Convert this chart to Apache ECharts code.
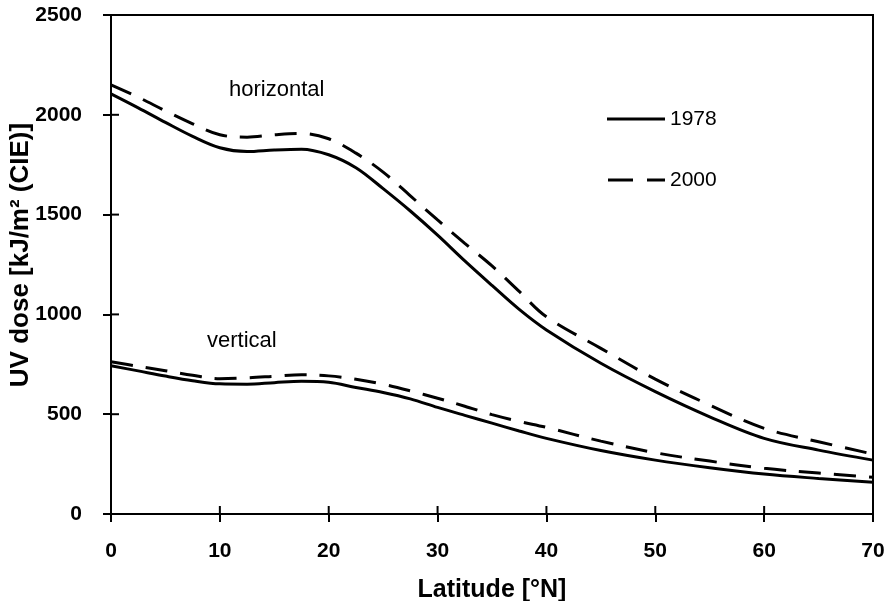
<!DOCTYPE html>
<html>
<head>
<meta charset="utf-8">
<script src="https://cdn.jsdelivr.net/npm/echarts@6/dist/echarts.min.js"></script>
<style>
html,body{margin:0;padding:0;background:#fff;}
#chart{width:891px;height:601px;}
</style>
</head>
<body>
<div id="chart"></div>
<script>
// Latitude (°N) sample points shared by all curves
var latitudes = [0, 2.5, 5, 7.5, 10, 12.5, 15, 17.5, 20, 22.5, 25, 27.5, 30, 32.5, 35, 37.5, 40, 45, 50, 55, 60, 65, 70];
// UV dose [kJ/m² (CIE)]
var horiz1978 = [2105, 2035, 1962, 1892, 1835, 1816, 1824, 1828, 1800, 1735, 1630, 1518, 1397, 1268, 1145, 1025, 922, 755, 613, 487, 379, 320, 270];
var horiz2000 = [2150, 2088, 2020, 1955, 1900, 1888, 1900, 1907, 1880, 1808, 1713, 1594, 1473, 1356, 1243, 1115, 988, 830, 676, 546, 429, 362, 300];
var vert1978  = [743, 717, 691, 668, 652, 650, 658, 665, 660, 634, 609, 577, 534, 494, 455, 416, 379, 318, 270, 232, 200, 178, 159];
var vert2000  = [763, 740, 718, 695, 678, 682, 690, 698, 692, 675, 650, 617, 580, 540, 498, 464, 434, 365, 307, 265, 229, 205, 184];

var xTicks = [0, 10, 20, 30, 40, 50, 60, 70];
var yTicks = [0, 500, 1000, 1500, 2000, 2500];
var legendNames = ['1978', '2000'];
var xTitle = 'Latitude [°N]';
var yTitle = 'UV dose [kJ/m² (CIE)]';

function pairs(xs, ys) { return xs.map(function (x, i) { return [x, ys[i]]; }); }

var FONT = '"Liberation Sans", Arial, Helvetica, sans-serif';
var solid = { color: '#000', width: 3, type: 'solid' };
var dashed = { color: '#000', width: 3, type: [22, 13] };

function innerTick(dir) {
  return function (params, api) {
    var p = api.coord([api.value(0), api.value(1)]);
    var shape = dir === 'x'
      ? { x1: p[0], y1: p[1], x2: p[0], y2: p[1] - 8 }
      : { x1: p[0], y1: p[1], x2: p[0] + 8, y2: p[1] };
    return { type: 'line', shape: shape, style: { stroke: '#000', lineWidth: 2 } };
  };
}

var chart = echarts.init(document.getElementById('chart'), null, { renderer: 'canvas' });
chart.setOption({
  backgroundColor: '#fff',
  animation: false,
  textStyle: { fontFamily: FONT, color: '#000' },
  grid: { left: 111, right: 18, top: 15, bottom: 87, containLabel: false, outerBoundsMode: 'none',
          show: true, borderColor: '#000', borderWidth: 2, backgroundColor: 'transparent' },
  xAxis: {
    type: 'value', min: xTicks[0], max: xTicks[xTicks.length - 1], interval: 10,
    name: xTitle, nameLocation: 'middle', nameGap: 64,
    nameTextStyle: { fontFamily: FONT, fontSize: 25, fontWeight: 'bold', color: '#000' },
    axisLine: { show: true, lineStyle: { color: '#000', width: 2 } },
    axisTick: { show: true, length: 8, lineStyle: { color: '#000', width: 2 } },
    axisLabel: { margin: 27, fontFamily: FONT, fontSize: 21, fontWeight: 'bold', color: '#000', formatter: function (v) { return String(v); } },
    splitLine: { show: false }
  },
  yAxis: {
    type: 'value', min: yTicks[0], max: yTicks[yTicks.length - 1], interval: 500,
    axisLine: { show: true, lineStyle: { color: '#000', width: 2 } },
    axisTick: { show: true, length: 8, lineStyle: { color: '#000', width: 2 } },
    axisLabel: { margin: 29, fontFamily: FONT, fontSize: 21, fontWeight: 'bold', color: '#000', formatter: function (v) { return String(v); } },
    splitLine: { show: false }
  },
  series: [
    { name: legendNames[0], type: 'line', smooth: 0.35, symbol: 'none', lineStyle: solid, data: pairs(latitudes, horiz1978) },
    { name: legendNames[1], type: 'line', smooth: 0.35, symbol: 'none', lineStyle: dashed, data: pairs(latitudes, horiz2000) },
    { name: legendNames[0], type: 'line', smooth: 0.35, symbol: 'none', lineStyle: solid, data: pairs(latitudes, vert1978) },
    { name: legendNames[1], type: 'line', smooth: 0.35, symbol: 'none', lineStyle: dashed, data: pairs(latitudes, vert2000) },
    // inner halves of the crossing tick marks
    { type: 'custom', silent: true, clip: false, renderItem: innerTick('x'),
      data: xTicks.map(function (x) { return [x, yTicks[0]]; }) },
    { type: 'custom', silent: true, clip: false, renderItem: innerTick('y'),
      data: yTicks.map(function (y) { return [xTicks[0], y]; }) }
  ],
  graphic: [
    { type: 'text', x: 21, y: 255, rotation: Math.PI / 2,
      style: { text: yTitle, font: 'bold 26px ' + FONT, fill: '#000', align: 'center', verticalAlign: 'middle' } },
    { type: 'text', left: 229, top: 79, style: { text: 'horizontal', font: '22px ' + FONT, fill: '#000' } },
    { type: 'text', left: 207, top: 330, style: { text: 'vertical', font: '22px ' + FONT, fill: '#000' } },
    { type: 'line', shape: { x1: 607, y1: 119, x2: 665, y2: 119 }, style: { stroke: '#000', lineWidth: 3 } },
    { type: 'text', left: 670, top: 109, style: { text: legendNames[0], font: '21px ' + FONT, fill: '#000' } },
    { type: 'line', shape: { x1: 608, y1: 180, x2: 665, y2: 180 }, style: { stroke: '#000', lineWidth: 3, lineDash: [25, 14] } },
    { type: 'text', left: 670, top: 170, style: { text: legendNames[1], font: '21px ' + FONT, fill: '#000' } }
  ]
});
</script>
</body>
</html>
